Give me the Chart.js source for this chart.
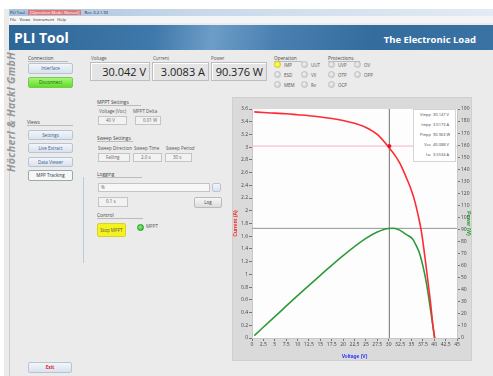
<!DOCTYPE html>
<html>
<head>
<meta charset="utf-8">
<script src="https://cdn.jsdelivr.net/npm/chart.js@4.4.1/dist/chart.umd.min.js"></script>
<style>
  body { margin: 0; width: 493px; height: 376px; overflow: hidden; position: relative;
         background: #fff; font-family: "Open Sans", "DejaVu Sans", sans-serif; color: #555; }
  .abs { position: absolute; }
  .frame { left: 4px; top: 9px; width: 489px; height: 367px; background: #ebebeb; }
  .titlebar { left: 9px; top: 9px; width: 484px; height: 7px;
              background: linear-gradient(90deg, #a9c1dc, #c9d9ea 40%, #e3ebf4); font-size: 4px; line-height: 7px; color: #223; }
  .titlebar span { background: #d77; color: #fff; padding: 0 2px; }
  .menubar { left: 9px; top: 16px; width: 484px; height: 7px; background: #f4f5f7;
             font-size: 4px; line-height: 7px; color: #222; }
  .banner { left: 9px; top: 25px; width: 484px; height: 25px;
            background: linear-gradient(100deg, #2d6595 0%, #3f78aa 30%, #6d9dc7 42%, #4a80b1 55%, #346c9e 75%, #3a72a4 100%); }
  .banner .t1 { left: 5px; top: 3px; font-size: 14px; font-weight: bold; color: #fff; }
  .banner .t2 { right: 17px; top: 8px; font-size: 9.5px; font-weight: bold; color: #fff; }
  .gmbh { left: 11px; top: 112px; transform: translate(-50%, -50%) rotate(-90deg); white-space: nowrap;
          font-size: 10.5px; font-weight: bold; font-style: italic; color: #979797; letter-spacing: 0.4px; }
  .vline { left: 9px; top: 50px; width: 1px; height: 326px; background: #cfcfcf; }
  .lbl { font-size: 4.5px; color: #555; white-space: nowrap; }
  .grp { font-size: 4.8px; color: #444; border-bottom: 1px solid #bbb; white-space: nowrap; }
  .btn { font-size: 4.5px; text-align: center; border: 1px solid #b9c4d2; border-radius: 2px;
         background: linear-gradient(#f3f6fa, #d9e2ee); color: #3b5b8a; box-sizing: border-box; }
  .box { border: 1px solid #bdbdbd; background: #e4e4e4; box-sizing: border-box; text-align: right;
         font-size: 11px; color: #222; line-height: 17px; padding-right: 3px; box-shadow: inset 1px 1px 0 #fff; white-space: nowrap; }
  .inp { border: 1px solid #c4c4c4; background: #f2f2f2; box-sizing: border-box; font-size: 4.5px; color: #666;
         line-height: 7px; padding-left: 7px; }
  .led { width: 7px; height: 7px; border-radius: 50%; background: radial-gradient(circle at 40% 40%, #f2f2f2, #c8c8c8); border: 1px solid #c0c0c0; box-sizing: border-box; }
  #chartBox { left: 232px; top: 97px; width: 240px; height: 264px; background: #dadada; border: 1px solid #cfcfcf; box-sizing: border-box; }
  .cur { left: 413px; top: 109px; width: 43px; height: 53px; background: #fff; border: 1px solid #d4d4d4; box-sizing: border-box; font-size: 4px; color: #444; }
  .cur div { height: 10px; line-height: 10px; white-space: nowrap; }
  .cur b { display: inline-block; width: 17px; text-align: right; font-weight: normal; margin-right: 2px; }
</style>
</head>
<body>
<div class="abs frame"></div>
<div class="abs titlebar">&nbsp;PLI Tool - <span>[Operation Mode: Manual]</span>&nbsp;&nbsp;&nbsp;Rev. 3.2.1.93</div>
<div class="abs menubar">&nbsp;File&nbsp;&nbsp;&nbsp;Views&nbsp;&nbsp;&nbsp;Instrument&nbsp;&nbsp;&nbsp;Help</div>
<div class="abs banner">
  <div class="abs t1">PLI Tool</div>
  <div class="abs t2">The Electronic Load</div>
</div>
<div class="abs vline"></div>
<div class="abs gmbh">Höcherl &amp; Hackl GmbH</div>

<!-- connection -->
<div class="abs grp" style="left:28px;top:55px;width:40px;">Connection</div>
<div class="abs btn" style="left:28px;top:63px;width:45px;height:11px;line-height:9px;">Interface</div>
<div class="abs btn" style="left:28px;top:77px;width:45px;height:11px;line-height:9px;background:linear-gradient(#a8f57c,#5fe01f);color:#1d5a10;border-color:#7bc65a;">Disconnect</div>

<!-- readouts -->
<div class="abs lbl" style="left:91px;top:55px;">Voltage</div>
<div class="abs lbl" style="left:153px;top:55px;">Current</div>
<div class="abs lbl" style="left:211px;top:55px;">Power</div>
<div class="abs box" style="left:90px;top:62px;width:60px;height:19px;">30.042 V</div>
<div class="abs box" style="left:152px;top:62px;width:57px;height:19px;">3.0083 A</div>
<div class="abs box" style="left:211px;top:62px;width:56px;height:19px;">90.376 W</div>

<!-- operation / protections -->
<div class="abs grp" style="left:274px;top:55px;width:28px;">Operation</div>
<div class="abs grp" style="left:328px;top:55px;width:32px;">Protections</div>
<div class="abs led" style="left:274px;top:61px;background:radial-gradient(circle at 40% 40%,#ffff80,#eaea00);border-color:#d0d000;"></div>
<div class="abs lbl" style="left:284px;top:62px;">IMP</div>
<div class="abs led" style="left:274px;top:71px;"></div><div class="abs lbl" style="left:284px;top:72px;">ESD</div>
<div class="abs led" style="left:274px;top:81px;"></div><div class="abs lbl" style="left:284px;top:82px;">MEM</div>
<div class="abs led" style="left:301px;top:61px;"></div><div class="abs lbl" style="left:311px;top:62px;">UUT</div>
<div class="abs led" style="left:301px;top:71px;"></div><div class="abs lbl" style="left:311px;top:72px;">VII</div>
<div class="abs led" style="left:301px;top:81px;"></div><div class="abs lbl" style="left:311px;top:82px;">Rv</div>
<div class="abs led" style="left:328px;top:61px;"></div><div class="abs lbl" style="left:338px;top:62px;">UVP</div>
<div class="abs led" style="left:328px;top:71px;"></div><div class="abs lbl" style="left:338px;top:72px;">OTP</div>
<div class="abs led" style="left:328px;top:81px;"></div><div class="abs lbl" style="left:338px;top:82px;">OCP</div>
<div class="abs led" style="left:354px;top:61px;"></div><div class="abs lbl" style="left:364px;top:62px;">OV</div>
<div class="abs led" style="left:354px;top:71px;"></div><div class="abs lbl" style="left:364px;top:72px;">OPP</div>

<!-- views -->
<div class="abs grp" style="left:27px;top:119px;width:46px;">Views</div>
<div class="abs btn" style="left:28px;top:130px;width:45px;height:10px;line-height:8px;">Settings</div>
<div class="abs btn" style="left:28px;top:143px;width:45px;height:10px;line-height:8px;">Live Extract</div>
<div class="abs btn" style="left:28px;top:157px;width:45px;height:10px;line-height:8px;">Data Viewer</div>
<div class="abs btn" style="left:28px;top:170px;width:45px;height:11px;line-height:9px;background:#f7f7f7;border:1px solid #9aa;color:#234;">MPP Tracking</div>
<div class="abs" style="left:83px;top:177px;width:1px;height:86px;background:#b9cbe0;"></div>

<!-- settings -->
<div class="abs grp" style="left:97px;top:99px;width:44px;">MPPT Settings</div>
<div class="abs lbl" style="left:99px;top:108px;">Voltage (Voc)</div>
<div class="abs lbl" style="left:133px;top:108px;">MPPT Delta</div>
<div class="abs inp" style="left:98px;top:116px;width:29px;height:9px;">40 V</div>
<div class="abs inp" style="left:135px;top:116px;width:26px;height:9px;">0.01 W</div>

<div class="abs grp" style="left:97px;top:135px;width:36px;">Sweep Settings</div>
<div class="abs lbl" style="left:98px;top:145px;">Sweep Direction</div>
<div class="abs lbl" style="left:134px;top:145px;">Sweep Time</div>
<div class="abs lbl" style="left:166px;top:145px;">Sweep Period</div>
<div class="abs inp" style="left:98px;top:153px;width:32px;height:9px;">Falling</div>
<div class="abs inp" style="left:133px;top:153px;width:29px;height:9px;">2.0 s</div>
<div class="abs inp" style="left:165px;top:153px;width:27px;height:9px;">30 s</div>

<div class="abs grp" style="left:97px;top:171px;width:45px;">Logging</div>
<div class="abs inp" style="left:98px;top:183px;width:112px;height:9px;background:#f7f7f7;padding-left:2px;">%</div>
<div class="abs btn" style="left:212px;top:183px;width:9px;height:9px;"></div>
<div class="abs inp" style="left:98px;top:197px;width:30px;height:10px;">0.1 s</div>
<div class="abs btn" style="left:194px;top:197px;width:28px;height:11px;line-height:9px;background:linear-gradient(#f7f7f7,#dcdcdc);border-color:#bbb;color:#444;">Log</div>

<div class="abs grp" style="left:97px;top:212px;width:46px;">Control</div>
<div class="abs btn" style="left:97px;top:223px;width:29px;height:14px;line-height:12px;background:#f6f21e;border-color:#d8cf30;color:#555;">Stop MPPT</div>
<div class="abs led" style="left:137px;top:224px;background:radial-gradient(circle at 40% 40%,#8df07a,#22b61a);border-color:#2a9a20;"></div>
<div class="abs lbl" style="left:146px;top:223px;">MPPT</div>

<div class="abs btn" style="left:28px;top:362px;width:44px;height:11px;line-height:9px;color:#e0202a;font-weight:bold;">Exit</div>

<!-- chart -->
<div id="chartBox" class="abs"><canvas id="ivChart"></canvas></div>
<div class="abs cur">
  <div><b>Vmpp</b>30.147 V</div>
  <div><b>Impp</b>3.0173 A</div>
  <div><b>Pmpp</b>90.963 W</div>
  <div><b>Voc</b>40.088 V</div>
  <div><b>Isc</b>3.5534 A</div>
</div>

<script>
// I-V curve
const ivVoltage = [0.5, 2.5, 5, 7.5, 10, 12.5, 15, 17.5, 20, 22.5, 25, 27.5, 30, 31.5, 32.5, 34, 35, 35.7, 36.5, 37.2, 38, 38.6, 39.2, 39.7, 40.09];
const ivCurrent = [3.555, 3.545, 3.535, 3.525, 3.51, 3.495, 3.475, 3.45, 3.42, 3.375, 3.31, 3.2, 3.0, 2.86, 2.74, 2.5, 2.32, 2.16, 1.92, 1.67, 1.25, 0.9, 0.55, 0.2, 0];

// P-V curve
const pvVoltage = [0.5, 5, 10, 15, 20, 25, 27.5, 30, 31, 32.5, 34, 35.3, 36, 36.8, 37.5, 38.3, 39.3, 40.09];
const pvPower = [2, 17.7, 35.1, 52, 68.4, 82.7, 88, 90.9, 91, 89.3, 85.5, 82, 77, 70, 60, 45.4, 20.6, 0];

// MPP cursor
const vmpp = 30.147;
const impp = 3.0173;
const pmpp = 90.963;

const xMax = 45, iMax = 3.6, pMax = 190;

const pts = (xs, ys) => xs.map((x, i) => ({ x: x, y: ys[i] }));

const plotBg = {
  id: 'plotBg',
  beforeDraw(chart) {
    const a = chart.chartArea, c = chart.ctx;
    c.save();
    c.fillStyle = '#fdfdfd';
    c.fillRect(a.left, a.top, a.right - a.left, a.bottom - a.top);
    c.restore();
  }
};

const tickFont = { size: 5, family: 'Open Sans' };

new Chart(document.getElementById('ivChart'), {
  type: 'scatter',
  data: {
    datasets: [
      { data: pts(ivVoltage, ivCurrent), yAxisID: 'y', borderColor: '#ff2a35', borderWidth: 1.6,
        showLine: true, pointRadius: 0, cubicInterpolationMode: 'monotone', order: 1 },
      { data: pts(pvVoltage, pvPower), yAxisID: 'y2', borderColor: '#2f9a3a', borderWidth: 1.6,
        showLine: true, pointRadius: 0, cubicInterpolationMode: 'monotone', order: 2 },
      { data: [{ x: 0, y: impp }, { x: xMax, y: impp }], yAxisID: 'y', borderColor: '#f6b3c3', borderWidth: 1,
        showLine: true, pointRadius: 0, order: 5 },
      { data: [{ x: 0, y: pmpp }, { x: xMax, y: pmpp }], yAxisID: 'y2', borderColor: '#8e9a8e', borderWidth: 1,
        showLine: true, pointRadius: 0, order: 4 },
      { data: [{ x: vmpp, y: 0 }, { x: vmpp, y: iMax }], yAxisID: 'y', borderColor: '#6f746f', borderWidth: 1,
        showLine: true, pointRadius: 0, order: 3 },
      { data: [{ x: vmpp, y: impp }], yAxisID: 'y', backgroundColor: '#e8102a', borderColor: '#e8102a',
        pointRadius: 1.6, order: 0 }
    ]
  },
  options: {
    responsive: true,
    maintainAspectRatio: false,
    animation: false,
    layout: { padding: { top: 11, left: 0, right: 0, bottom: 0 } },
    plugins: { legend: { display: false }, tooltip: { enabled: false } },
    scales: {
      x: {
        type: 'linear', min: 0, max: xMax,
        border: { color: '#c8c8c8' },
        grid: { drawOnChartArea: false, tickLength: 3, color: '#777' },
        ticks: { stepSize: 2.5, autoSkip: false, maxRotation: 0, padding: 1, font: tickFont, color: '#444' },
        title: { display: true, text: 'Voltage (V)', color: '#2430ff', font: { size: 5, weight: 'bold' }, padding: 0 },
        afterFit: s => { s.height = 22; }
      },
      y: {
        position: 'left', min: 0, max: iMax,
        border: { color: '#c8c8c8' },
        grid: { drawOnChartArea: false, tickLength: 3, color: '#777' },
        ticks: { stepSize: 0.2, autoSkip: false, padding: 1, font: tickFont, color: '#444',
                 callback: v => String(+v.toFixed(1)) },
        title: { display: true, text: 'Current (A)', color: '#ff2020', font: { size: 5, weight: 'bold' }, padding: 0 },
        afterFit: s => { s.width = 19; }
      },
      y2: {
        position: 'right', min: 0, max: pMax,
        border: { color: '#c8c8c8' },
        grid: { drawOnChartArea: false, tickLength: 3, color: '#777' },
        ticks: { stepSize: 10, autoSkip: false, padding: 1, font: tickFont, color: '#444' },
        title: { display: true, text: 'Power (W)', color: '#22a030', font: { size: 5, weight: 'bold' }, padding: 0 },
        afterFit: s => { s.width = 14; }
      }
    }
  },
  plugins: [plotBg]
});
</script>
</body>
</html>
